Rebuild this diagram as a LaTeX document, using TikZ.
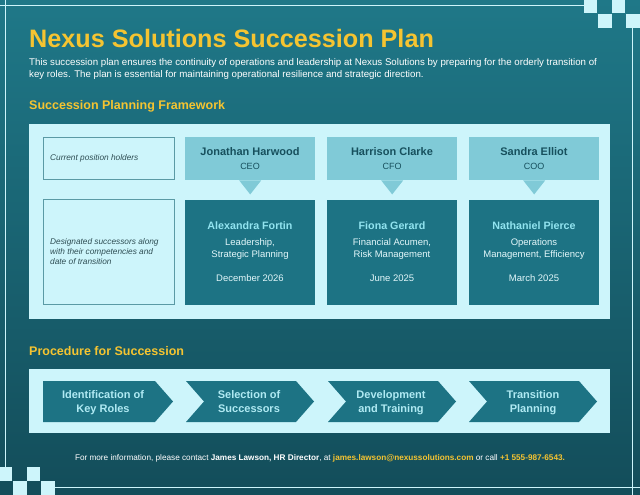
\documentclass[tikz,border=0pt]{standalone}
\usepackage{fontspec}
\setmainfont{Liberation Sans}
\usetikzlibrary{calc}
\definecolor{bgtop}{HTML}{1F7888}
\definecolor{bgbot}{HTML}{134D5A}
\definecolor{pale}{HTML}{CDF5FB}
\definecolor{holder}{HTML}{80CAD7}
\definecolor{succ}{HTML}{1D7384}
\definecolor{gold}{HTML}{F5C431}
\definecolor{dark}{HTML}{17505D}
\definecolor{succname}{HTML}{92E4F0}
\definecolor{labelbd}{HTML}{5A9AA5}
\definecolor{labeltx}{HTML}{2E4D53}
\definecolor{chevtx}{HTML}{B0EAF3}
\definecolor{comptx}{HTML}{E3F7FA}
\begin{document}
\begin{tikzpicture}[x=1pt,y=-1pt,
  txt/.style={inner sep=0pt, anchor=base},
  holderbox/.style={fill=holder, draw=none, minimum width=130pt, minimum height=43pt, inner sep=0pt, anchor=north west},
  succbox/.style={fill=succ, draw=none, minimum width=130pt, minimum height=105pt, inner sep=0pt, anchor=north west},
  labelbox/.style={fill=pale, draw=labelbd, line width=0.7pt, minimum width=131pt, inner sep=0pt, anchor=north west},
  hname/.style={txt, text=dark, font=\bfseries\fontsize{11}{13}\selectfont},
  hrole/.style={txt, text=dark, font=\fontsize{9}{11}\selectfont},
  sname/.style={txt, text=succname, font=\bfseries\fontsize{10.7}{13}\selectfont},
  scomp/.style={txt, text=comptx, font=\fontsize{9.5}{11}\selectfont},
  ltext/.style={inner sep=0pt, anchor=base west, text=labeltx, font=\itshape\fontsize{8.3}{10}\selectfont},
  chevtext/.style={txt, text=chevtx, font=\bfseries\fontsize{11}{13}\selectfont},
  section/.style={inner sep=0pt, anchor=base west, text=gold, font=\bfseries\fontsize{12.5}{15}\selectfont},
  frameline/.style={draw=pale, line width=1pt},
  chevfill/.style={fill=succ}
]
\useasboundingbox (0,0) rectangle (640,495);
\shade[top color=bgtop, bottom color=bgbot] (0,0) rectangle (640,495);

% frame lines and corner squares
\draw[frameline] (0,6) -- (584,6);
\draw[frameline] (5,0) -- (5,467);
\draw[frameline] (632.5,28) -- (632.5,495);
\draw[frameline] (55,487) -- (640,487);
\fill[pale] (584,0) rectangle (597,13);
\fill[pale] (612,0) rectangle (625,13);
\fill[pale] (598,14) rectangle (612,28);
\fill[pale] (626,14) rectangle (640,28);
\fill[pale] (0,467) rectangle (12,481);
\fill[pale] (27,467) rectangle (40,481);
\fill[pale] (13,481) rectangle (27,495);
\fill[pale] (41,481) rectangle (55,495);

% title and intro
\node[inner sep=0pt, anchor=base west, text=gold, font=\bfseries\fontsize{25.2}{28}\selectfont] (title) at (29,48) {Nexus Solutions Succession Plan};
\node[inner sep=0pt, anchor=base west, text=white, font=\fontsize{9.7}{11}\selectfont] (intro1) at (29,66) {This succession plan ensures the continuity of operations and leadership at Nexus Solutions by preparing for the orderly transition of};
\node[inner sep=0pt, anchor=base west, text=white, font=\fontsize{9.7}{11}\selectfont] (intro2) at (29,77.5) {key roles. The plan is essential for maintaining operational resilience and strategic direction.};

% framework
\node[section] (fwtitle) at (29,109) {Succession Planning Framework};
\fill[pale] (29,124) rectangle (610,319);

\node[labelbox, minimum height=42pt] (lab1) at (42.5,137) {};
\node[ltext] (lab1t) at (50,160.5) {Current position holders};
\node[labelbox, minimum height=105pt] (lab2) at (42.5,199.3) {};
\node[ltext] (lab2a) at (50,244.7) {Designated successors along};
\node[ltext] (lab2b) at (50,254.5) {with their competencies and};
\node[ltext] (lab2c) at (50,264.3) {date of transition};

% holders
\node[holderbox] (h1) at (185,137) {};
\node[holderbox] (h2) at (327,137) {};
\node[holderbox] (h3) at (469,137) {};
\foreach \h in {h1,h2,h3}{
  \fill[holder] ($(\h.south)+(-11,0)$) -- ($(\h.south)+(11,0)$) -- ($(\h.south)+(0,14)$) -- cycle;
}
\node[hname] (h1n) at (250,155.3) {Jonathan Harwood};
\node[hrole] (h1r) at (250,169) {CEO};
\node[hname] (h2n) at (392,155.3) {Harrison Clarke};
\node[hrole] (h2r) at (392,169) {CFO};
\node[hname] (h3n) at (534,155.3) {Sandra Elliot};
\node[hrole] (h3r) at (534,169) {COO};

% successors
\node[succbox] (s1) at (185,199.3) {};
\node[succbox] (s2) at (327,199.3) {};
\node[succbox] (s3) at (469,199.3) {};
\node[sname] (s1n) at (250,229.3) {Alexandra Fortin};
\node[scomp] (s1c1) at (250,245.7) {Leadership,};
\node[scomp] (s1c2) at (250,257.7) {Strategic Planning};
\node[scomp] (s1d) at (250,281) {December 2026};
\node[sname] (s2n) at (392,229.3) {Fiona Gerard};
\node[scomp] (s2c1) at (392,245.7) {Financial Acumen,};
\node[scomp] (s2c2) at (392,257.7) {Risk Management};
\node[scomp] (s2d) at (392,281) {June 2025};
\node[sname] (s3n) at (534,229.3) {Nathaniel Pierce};
\node[scomp] (s3c1) at (534,245.7) {Operations};
\node[scomp] (s3c2) at (534,257.7) {Management, Efficiency};
\node[scomp] (s3d) at (534,281) {March 2025};

% procedure
\node[section] (prtitle) at (29,355) {Procedure for Succession};
\fill[pale] (29,369) rectangle (610,433);
\fill[chevfill] (43,381) -- (155,381) -- (173,401.5) -- (155,422) -- (43,422) -- cycle;
\foreach \dx in {0,142,283}{
  \fill[chevfill] (186+\dx,381) -- (296+\dx,381) -- (314+\dx,401.5) -- (296+\dx,422) -- (186+\dx,422) -- (204+\dx,401.5) -- cycle;
}
\node[chevtext] (p1a) at (103,398.3) {Identification of};
\node[chevtext] (p1b) at (103,412.3) {Key Roles};
\node[chevtext] (p2a) at (249,398.3) {Selection of};
\node[chevtext] (p2b) at (249,412.3) {Successors};
\node[chevtext] (p3a) at (391,398.3) {Development};
\node[chevtext] (p3b) at (391,412.3) {and Training};
\node[chevtext] (p4a) at (533,398.3) {Transition};
\node[chevtext] (p4b) at (533,412.3) {Planning};

% footer
\node[txt, text=white, font=\fontsize{8.2}{10}\selectfont] (footer) at (320,460) {For more information, please contact \textbf{James Lawson, HR Director}, at {\color{gold}\textbf{james.lawson@nexussolutions.com}} or call {\color{gold}\textbf{+1 555-987-6543.}}};
\end{tikzpicture}
\end{document}
